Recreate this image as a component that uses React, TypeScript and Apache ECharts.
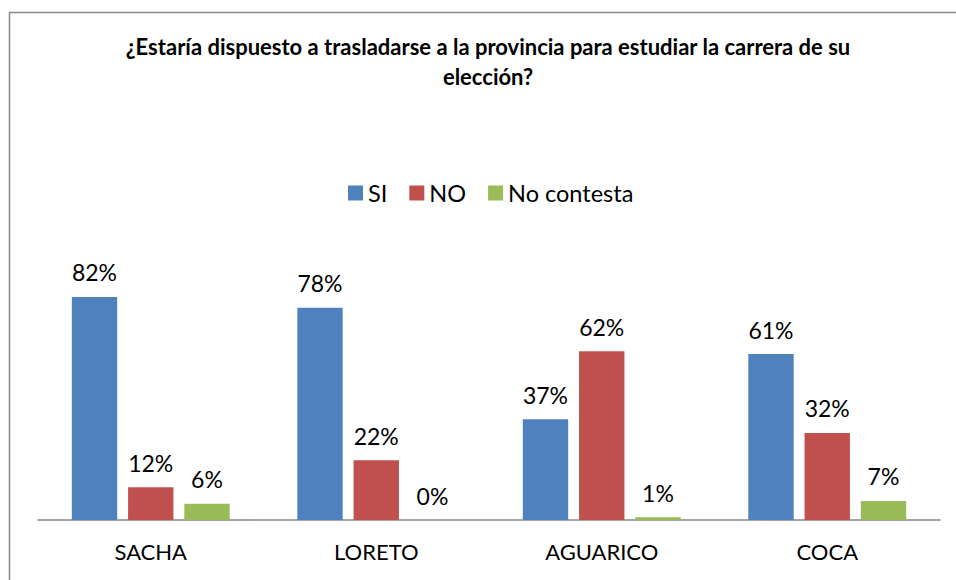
import React, { useEffect, useRef } from "react";
import * as echarts from "echarts";

const titleText =
  "¿Estaría dispuesto a trasladarse a la provincia para estudiar la carrera de su\nelección?";
const categories = ["SACHA", "LORETO", "AGUARICO", "COCA"];
const seriesNames = ["SI", "NO", "No contesta"];
const siValues = [82, 78, 37, 61];
const noValues = [12, 22, 62, 32];
const ncValues = [6, 0, 1, 7];
const colors = ["#4F81BD", "#C0504D", "#9BBB59"];

const FONT = "Lato";

export default function App() {
  const ref = useRef<HTMLDivElement>(null);
  useEffect(() => {
    if (!ref.current) return;
    const chart = echarts.init(ref.current, undefined, { renderer: "svg" });
    const values = [siValues, noValues, ncValues];
    chart.setOption({
      animation: false,
      backgroundColor: "#ffffff",
      title: {
        text: titleText,
        left: 483,
        top: 26,
        textAlign: "center",
        textStyle: {
          fontFamily: FONT,
          fontWeight: "bold",
          fontSize: 22,
          lineHeight: 30,
          color: "#000000",
        },
      },
      legend: {
        left: 343,
        top: 176,
        itemWidth: 15,
        itemHeight: 15,
        itemGap: 22,
        icon: "rect",
        textStyle: { fontFamily: FONT, fontSize: 23.5, color: "#000000" },
        data: seriesNames,
      },
      graphic: [
        {
          type: "rect",
          shape: { x: 9.5, y: 12.5, width: 1000, height: 1000 },
          style: { fill: "none", stroke: "#898989", lineWidth: 1.5 },
          silent: true,
        },
      ],
      grid: { left: 38, right: 16, top: 248, bottom: 60 },
      xAxis: {
        type: "category",
        data: categories,
        axisLine: { lineStyle: { color: "#888888", width: 1.5 } },
        axisTick: { show: false },
        axisLabel: {
          fontFamily: FONT,
          fontSize: 22,
          color: "#000000",
          margin: 20,
        },
      },
      yAxis: {
        type: "value",
        min: 0,
        max: 100,
        show: false,
        splitLine: { show: false },
      },
      series: seriesNames.map((name, i) => ({
        name,
        type: "bar",
        data: values[i],
        barGap: "24%",
        barCategoryGap: "30%",
        itemStyle: { color: colors[i] },
        label: {
          show: true,
          position: "top",
          distance: 13,
          formatter: "{c}%",
          fontFamily: FONT,
          fontSize: 23,
          color: "#000000",
        },
      })),
    });
    return () => chart.dispose();
  }, []);
  return (
    <div
      ref={ref}
      style={{ position: "fixed", left: 0, top: 0, width: 956, height: 580 }}
    />
  );
}
